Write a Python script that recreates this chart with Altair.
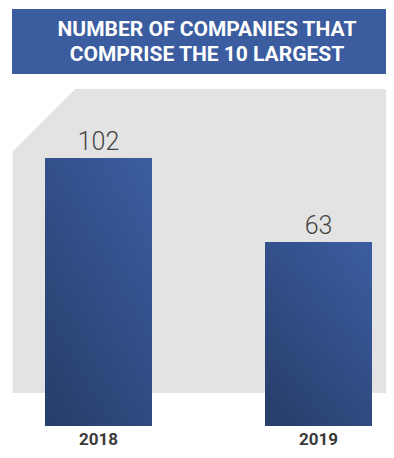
import altair as alt
import pandas as pd

years = ["2018", "2019"]
values = [102, 63]
title_lines = ["NUMBER OF COMPANIES THAT", "COMPRISE THE 10 LARGEST"]

df = pd.DataFrame({"year": years, "value": values})

W, H = 378, 442
Y_DOMAIN = [-22.43, 171.64]
FONT = "Roboto"

one = alt.Data(values=[{}])

gray = alt.Chart(one).mark_rect(color="#E3E3E3").encode(
    x=alt.value(4.7), x2=alt.value(W), y=alt.value(81), y2=alt.value(385)
)
corner = alt.Chart(one).mark_square(
    size=7812, angle=45, color="white", opacity=1, strokeWidth=0, filled=True
).encode(x=alt.value(4.7), y=alt.value(81))

title_box = alt.Chart(one).mark_rect(color="#3B5C9F").encode(
    x=alt.value(4), x2=alt.value(W), y=alt.value(1), y2=alt.value(66)
)
title_text = alt.Chart(one).mark_text(
    font=FONT, fontSize=21, fontWeight="bold", color="white",
    align="center", baseline="alphabetic", lineBreak="\n", lineHeight=25,
).encode(x=alt.value(199), y=alt.value(28), text=alt.value("\n".join(title_lines)))

xscale = alt.Scale(domain=years, range=[0, 401], paddingInner=0.51364, paddingOuter=0.16818)
yscale = alt.Scale(domain=Y_DOMAIN, range=[418, 0], zero=False, nice=False)

grad = alt.Gradient(
    gradient="linear",
    stops=[alt.GradientStop(color="#283F6C", offset=0),
           alt.GradientStop(color="#3A5B9E", offset=1)],
    x1=0.15, y1=1, x2=0.85, y2=0,
)

base = alt.Chart(df)
bars = base.mark_bar(fill=grad).encode(
    x=alt.X("year:N", scale=xscale, axis=None),
    y=alt.Y("value:Q", scale=yscale, axis=None),
    y2=alt.datum(Y_DOMAIN[0]),
)
labels = base.mark_text(
    font=FONT, fontSize=25, fontWeight=300, color="#444444",
    baseline="alphabetic", dy=-8,
).encode(
    x=alt.X("year:N", scale=xscale, axis=None),
    y=alt.Y("value:Q", scale=yscale, axis=None),
    text="value:Q",
)
year_labels = base.mark_text(
    font=FONT, fontSize=17, fontWeight="bold", color="#3A3A3A",
    baseline="alphabetic",
).encode(
    x=alt.X("year:N", scale=xscale, axis=None),
    y=alt.value(437),
    text="year:N",
)

chart = alt.layer(gray, corner, title_box, title_text, bars, labels, year_labels).properties(
    width=W, height=H, padding=0, autosize=alt.AutoSizeParams(type="none"),
    background="white",
).configure_view(strokeWidth=0)

chart.save("out.html", embed_options={"renderer": "svg", "actions": False})
